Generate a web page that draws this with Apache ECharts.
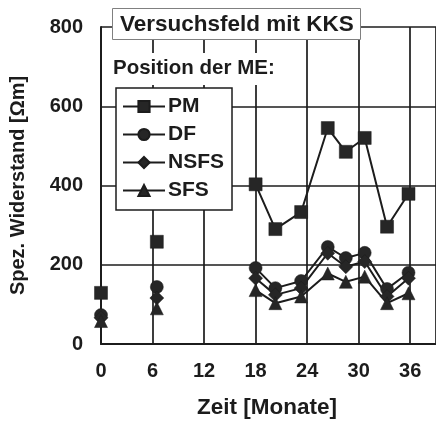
<!DOCTYPE html>
<html>
<head>
<meta charset="utf-8">
<script src="https://cdn.jsdelivr.net/npm/echarts@6/dist/echarts.min.js"></script>
<style>
  html, body { margin: 0; padding: 0; background: #fff; }
  #main { width: 436px; height: 421px; }
</style>
</head>
<body>
<div id="main"></div>
<script>
// Zeit [Monate] der Messungen
const months = [0, 6.5, 18, 20.3, 23.3, 26.4, 28.5, 30.7, 33.3, 35.8]
// Linie wird nach diesen Indizes unterbrochen
const gapAfter = [0, 1]
const pm = [129, 258, 403, 290, 333, 545, 485, 520, 296, 379]
const df = [73, 144, 192, 141, 159, 245, 217, 230, 139, 180]
const nsfs = [66, 116, 166, 124, 141, 229, 195, 208, 120, 166]
const sfs = [58, 90, 136, 103, 120, 178, 157, 170, 103, 128]
const yTicks = [0, 200, 400, 600, 800]
const xTicks = [0, 6, 12, 18, 24, 30, 36]

const font = 'Liberation Sans, Arial, sans-serif'
const ink = '#1c1c1c'

function build(vals) {
  const out = []
  vals.forEach((v, i) => {
    out.push([months[i], v])
    if (gapAfter.includes(i)) out.push([months[i], '-'])
  })
  return out
}

function line(name, vals, symbol, size) {
  return {
    name: name,
    type: 'line',
    data: build(vals),
    symbol: symbol,
    symbolSize: size,
    showAllSymbol: true,
    connectNulls: false,
    lineStyle: { color: ink, width: 2 },
    itemStyle: { color: '#262626', borderColor: ink, borderWidth: 0.5 },
    emphasis: { disabled: true },
    z: 5,
  }
}

const myChart = echarts.init(document.getElementById('main'))
const option = {
  animation: false,
  textStyle: { fontFamily: font },
  title: [
    {
      text: 'Versuchsfeld mit KKS',
      left: 112,
      top: 8,
      padding: [5, 7, 4, 8],
      backgroundColor: '#fff',
      borderColor: '#808080',
      borderWidth: 1,
      textStyle: { fontFamily: font, fontSize: 22.5, fontWeight: 'bold', color: ink },
    },
    {
      text: 'Position der ME:',
      left: 111,
      top: 53,
      padding: [5, 4, 6, 2],
      backgroundColor: '#fff',
      textStyle: { fontFamily: font, fontSize: 20.5, fontWeight: 'bold', color: ink },
    },
  ],
  legend: {
    orient: 'vertical',
    left: 116,
    top: 88,
    padding: [8, 8, 9, 6],
    itemWidth: 42,
    itemHeight: 14,
    itemGap: 7,
    backgroundColor: '#fff',
    borderColor: ink,
    borderWidth: 1.5,
    borderRadius: 0,
    textStyle: { fontFamily: font, fontSize: 21, fontWeight: 'bold', color: ink, padding: [0, 0, 0, -2] },
    data: ['PM', 'DF', 'NSFS', 'SFS'],
  },
  grid: { left: 101, right: 0, top: 27, bottom: 77, containLabel: false },
  xAxis: {
    type: 'value',
    min: 0,
    max: 39,
    interval: 6,
    axisLine: { show: true, onZero: false, lineStyle: { color: ink, width: 2 } },
    axisTick: { show: false },
    splitLine: { show: true, lineStyle: { color: ink, width: 1.7 } },
    axisLabel: {
      margin: 17,
      fontFamily: font,
      fontSize: 20,
      fontWeight: 'bold',
      color: ink,
      showMaxLabel: false,
      formatter: (v) => (xTicks.includes(v) ? String(v) : ''),
    },
  },
  yAxis: {
    type: 'value',
    min: 0,
    max: 800,
    interval: 200,
    name: 'Spez. Widerstand [Ωm]',
    nameLocation: 'middle',
    nameGap: 73,
    nameTextStyle: { fontFamily: font, fontSize: 20, fontWeight: 'bold', color: ink },
    axisLine: { show: true, lineStyle: { color: ink, width: 2 } },
    axisTick: { show: false },
    splitLine: { show: true, lineStyle: { color: ink, width: 1.7 } },
    axisLabel: {
      margin: 18,
      fontFamily: font,
      fontSize: 20,
      fontWeight: 'bold',
      color: ink,
      formatter: (v) => (yTicks.includes(v) ? String(v) : ''),
    },
  },
  graphic: [
    {
      type: 'text',
      style: {
        text: 'Zeit [Monate]',
        x: 267,
        y: 408,
        fontFamily: font,
        fontSize: 22.5,
        fontWeight: 'bold',
        fill: ink,
        textAlign: 'center',
        textVerticalAlign: 'middle',
      },
    },
  ],
  series: [
    line('PM', pm, 'rect', 13),
    line('DF', df, 'circle', 13),
    line('NSFS', nsfs, 'diamond', 14),
    line('SFS', sfs, 'triangle', 13),
  ],
}
option && myChart.setOption(option)
</script>
</body>
</html>
